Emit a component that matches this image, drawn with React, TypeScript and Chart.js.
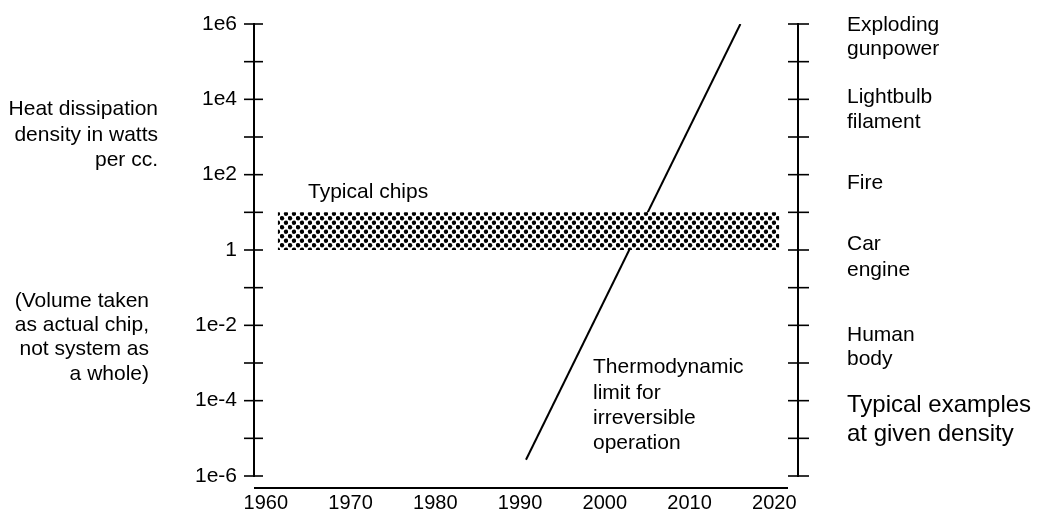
import React, { useEffect, useRef } from 'react';
import { Chart, registerables } from 'chart.js';

Chart.register(...registerables);

// ---- data ----
const yTickValues = [1e-6, 1e-5, 1e-4, 1e-3, 1e-2, 1e-1, 1, 1e1, 1e2, 1e3, 1e4, 1e5, 1e6];
const yTickLabels = ['1e-6', '', '1e-4', '', '1e-2', '', '1', '', '1e2', '', '1e4', '', '1e6'];
const xTickValues = [1960, 1970, 1980, 1990, 2000, 2010, 2020];
const xTickLabels = ['1960', '1970', '1980', '1990', '2000', '2010', '2020'];

const chipYears = [1961.4, 2020.6];
const chipLow = [1, 1];
const chipHigh = [10, 10];

const limitYears = [1990.7, 2016.0];
const limitValues = [2.7e-6, 1e6];

const leftNoteTop = ['Heat dissipation', 'density in watts', 'per cc.'];
const leftNoteBottom = ['(Volume taken', 'as actual chip,', 'not system as', 'a whole)'];
const examples = ['Exploding', 'gunpower', 'Lightbulb', 'filament', 'Fire', 'Car', 'engine', 'Human', 'body'];
const examplesTitle = ['Typical examples', 'at given density'];
const limitNote = ['Thermodynamic', 'limit for', 'irreversible', 'operation'];
const chipsNote = 'Typical chips';

// ---- layout of text (pixels) ----
const FONT = '"Liberation Sans", Arial, Helvetica, sans-serif';
const leftTopX = 158;
const leftTopY = [115, 141, 166];
const leftBottomX = 149;
const leftBottomY = [307, 331, 355, 380];
const examplesX = 847;
const examplesY = [31, 55, 103, 128, 189, 250, 276, 341, 365];
const examplesTitleY = [412, 441];
const limitX = 593;
const limitY = [373, 399, 424, 449];
const chipsX = 308;
const chipsY = 198;

function makePattern(): CanvasPattern | string {
  const c = document.createElement('canvas');
  c.width = 8;
  c.height = 9;
  const g = c.getContext('2d');
  if (!g) return '#888';
  g.fillStyle = '#fff';
  g.fillRect(0, 0, 8, 9);
  g.fillStyle = '#000';
  const dots = [
    [2, 2.2],
    [6, 6.7],
  ];
  for (const [dx, dy] of dots) {
    g.beginPath();
    g.arc(dx, dy, 2.2, 0, Math.PI * 2);
    g.fill();
  }
  const p = g.createPattern(c, 'repeat');
  return p || '#888';
}

const decorPlugin = {
  id: 'decor',
  afterDraw(chart: any) {
    const { ctx, chartArea } = chart;
    const { left, right, bottom } = chartArea;
    const ys = chart.scales.y;
    const yTop = ys.getPixelForValue(yTickValues[yTickValues.length - 1]);
    const yBot = ys.getPixelForValue(yTickValues[0]);
    ctx.save();
    ctx.strokeStyle = '#000';
    ctx.lineCap = 'butt';
    const line = (x1: number, y1: number, x2: number, y2: number, w: number) => {
      ctx.lineWidth = w;
      ctx.beginPath();
      ctx.moveTo(x1, y1);
      ctx.lineTo(x2, y2);
      ctx.stroke();
    };
    // vertical axes
    line(left, yTop - 1, left, yBot + 1, 2);
    line(right, yTop - 1, right, yBot + 1, 2);
    // ticks crossing the axes
    for (const v of yTickValues) {
      const py = ys.getPixelForValue(v);
      line(left - 10, py, left + 9, py, 1.6);
      line(right - 10, py, right + 11, py, 1.6);
    }
    // x axis line (detached, below the plot)
    const axisY = bottom + 12;
    line(left, axisY, right - 10, axisY, 2);

    // texts
    ctx.fillStyle = '#000';
    ctx.textBaseline = 'alphabetic';
    ctx.font = `21px ${FONT}`;
    ctx.textAlign = 'right';
    leftNoteTop.forEach((t, i) => ctx.fillText(t, leftTopX, leftTopY[i]));
    leftNoteBottom.forEach((t, i) => ctx.fillText(t, leftBottomX, leftBottomY[i]));
    ctx.textAlign = 'left';
    examples.forEach((t, i) => ctx.fillText(t, examplesX, examplesY[i]));
    limitNote.forEach((t, i) => ctx.fillText(t, limitX, limitY[i]));
    ctx.fillText(chipsNote, chipsX, chipsY);
    ctx.font = `24px ${FONT}`;
    examplesTitle.forEach((t, i) => ctx.fillText(t, examplesX, examplesTitleY[i]));
    ctx.restore();
  },
};

export default function App() {
  const ref = useRef<HTMLCanvasElement>(null);

  useEffect(() => {
    const canvas = ref.current;
    if (!canvas) return;
    const pattern = makePattern();
    const chart = new Chart(canvas, {
      type: 'line',
      data: {
        datasets: [
          {
            data: chipYears.map((x, i) => ({ x, y: chipHigh[i] })),
            borderWidth: 0,
            borderColor: 'rgba(0,0,0,0)',
            pointRadius: 0,
            fill: false,
          },
          {
            data: chipYears.map((x, i) => ({ x, y: chipLow[i] })),
            borderWidth: 0,
            borderColor: 'rgba(0,0,0,0)',
            pointRadius: 0,
            fill: '-1',
            backgroundColor: pattern as any,
          },
          {
            data: limitYears.map((x, i) => ({ x, y: limitValues[i] })),
            borderColor: '#000',
            borderWidth: 2,
            pointRadius: 0,
            fill: false,
          },
        ],
      },
      options: {
        animation: false,
        responsive: false,
        events: [],
        layout: { padding: { left: 0, right: 242, top: 24, bottom: 0 } },
        plugins: {
          legend: { display: false },
          tooltip: { enabled: false },
        },
        scales: {
          x: {
            type: 'linear',
            min: 1958.6,
            max: 2022.8,
            afterBuildTicks: (s: any) => {
              s.ticks = xTickValues.map((v) => ({ value: v }));
            },
            afterFit: (s: any) => {
              s.height = 37;
            },
            grid: { display: false, drawTicks: false },
            border: { display: false },
            ticks: {
              padding: 15,
              autoSkip: false,
              maxRotation: 0,
              color: '#000',
              font: { family: FONT, size: 20 },
              callback: (v: any) => {
                const i = xTickValues.indexOf(Number(v));
                return i >= 0 ? xTickLabels[i] : '';
              },
            },
          },
          y: {
            type: 'logarithmic',
            min: 1e-6,
            max: 1e6,
            afterBuildTicks: (s: any) => {
              s.ticks = yTickValues.map((v) => ({ value: v }));
            },
            afterFit: (s: any) => {
              s.width = 254;
            },
            grid: {
              display: true,
              drawOnChartArea: false,
              drawTicks: true,
              tickLength: 17,
              color: 'rgba(0,0,0,0)',
            },
            border: { display: false },
            ticks: {
              padding: 0,
              autoSkip: false,
              color: '#000',
              font: { family: FONT, size: 21 },
              callback: (v: any) => {
                const i = yTickValues.indexOf(Number(v));
                return i >= 0 ? yTickLabels[i] : '';
              },
            },
          },
        },
      },
      plugins: [decorPlugin],
    });
    return () => chart.destroy();
  }, []);

  return (
    <div style={{ position: 'absolute', left: 0, top: 0, width: 1040, height: 513, background: '#fff' }}>
      <canvas ref={ref} width={1040} height={513} style={{ width: 1040, height: 513, display: 'block' }} />
    </div>
  );
}
